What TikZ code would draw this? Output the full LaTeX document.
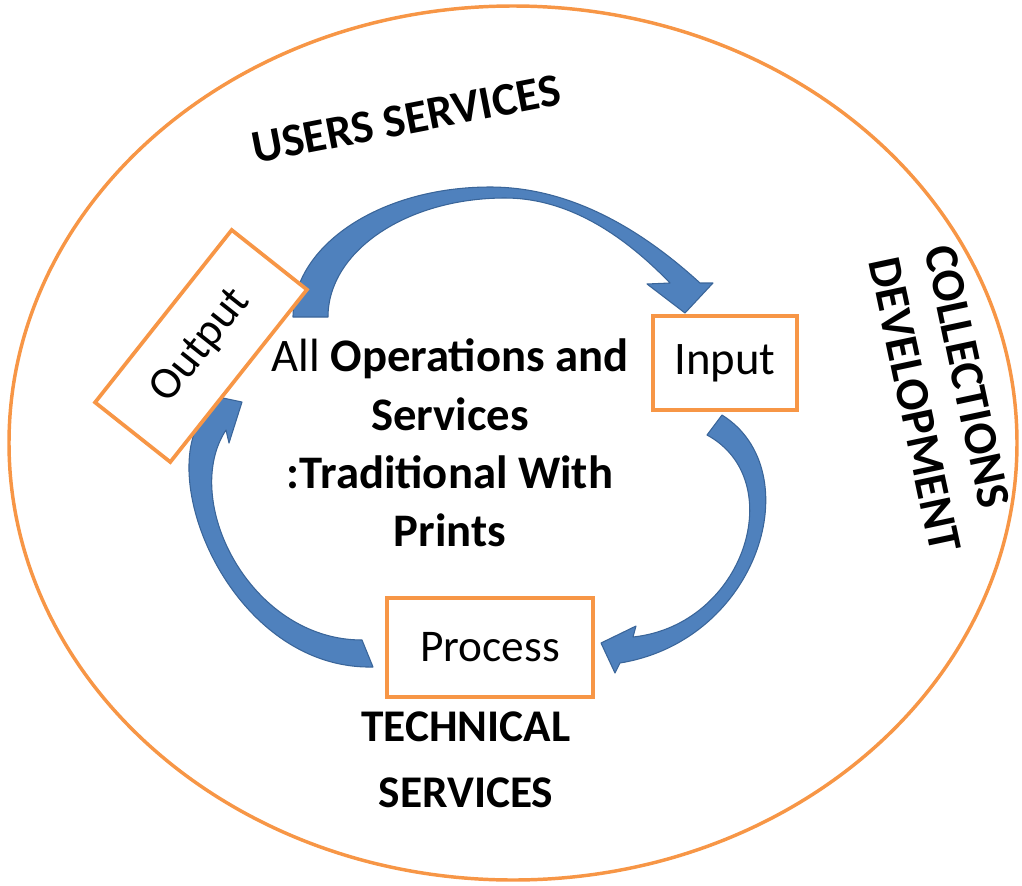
\documentclass[tikz,border=0pt]{standalone}
\usepackage{fontspec}
\setmainfont{Carlito}
\definecolor{ring}{HTML}{F79646}
\definecolor{arrowfill}{HTML}{4F81BD}
\definecolor{arrowline}{HTML}{3A6599}
\tikzset{
  box/.style={draw=ring, line width=2.8pt, fill=white, inner sep=0pt, font=\fontsize{34}{40}\selectfont},
  blockarrow/.style={fill=arrowfill, draw=arrowline, line width=0.8pt, line join=round},
  bigbold/.style={font=\fontsize{35}{43.7}\selectfont\bfseries, align=center},
}
\begin{document}
\begin{tikzpicture}[x=0.75pt,y=-0.75pt]
\useasboundingbox (0,0) rectangle (1022,886);
\draw[ring, line width=2.6pt] (513,443) ellipse [x radius=504, y radius=437];

% arrows
\draw[blockarrow] (293,317) .. controls (293,245) and (381,187) .. (490,187)
  .. controls (560,187) and (630,219) .. (700,283) -- (713,283) -- (685,313) -- (647,284) -- (670,283)
  .. controls (615,226) and (560,198) .. (505,198)
  .. controls (407,198) and (328,251) .. (328,317) -- cycle;
\draw[blockarrow] (722,415) .. controls (810,470) and (760,640) .. (620,663)
  -- (615,673) -- (601,643) -- (636,626) -- (633,637)
  .. controls (745,625) and (790,480) .. (707,435) -- cycle;
\draw[blockarrow] (373,667) .. controls (230,670) and (150,470) .. (208,410)
  -- (204,394) -- (242,402) -- (229,443) -- (226,430)
  .. controls (180,500) and (250,640) .. (362,640) -- cycle;

% boxes
\node[box, minimum width=165pt, minimum height=72pt, rotate=51.6] (output) at (201,346) {Output};
\node[box, minimum width=108pt, minimum height=70.5pt, font=\fontsize{35}{40}\selectfont] (input) at (725,363) {Input};
\node[box, minimum width=154.5pt, minimum height=74pt] (process) at (490,647.5) {Process};

% texts
\node[bigbold] (core) at (450,443) {{\mdseries All} Operations and\\Services\\:Traditional With\\Prints};
\node[bigbold, font=\fontsize{34}{49.5}\selectfont\bfseries] (tech) at (466,760) {TECHNICAL\\SERVICES};
\node[bigbold, rotate=11] (users) at (406,119) {USERS SERVICES};
\node[font=\fontsize{35.5}{43}\selectfont\bfseries, align=left, rotate=-78] (coll) at (943,399) {COLLECTIONS\\DEVELOPMENT};
\end{tikzpicture}
\end{document}
